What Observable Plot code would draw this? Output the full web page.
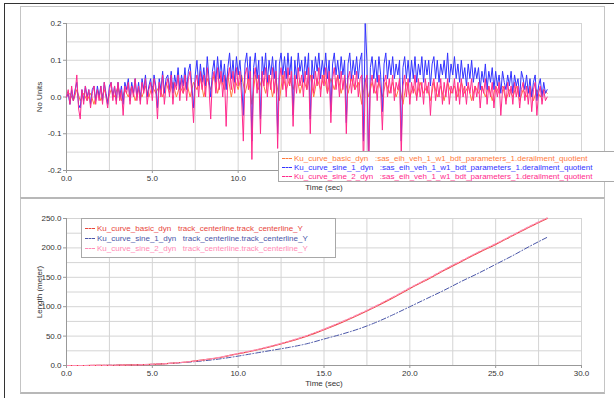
<!DOCTYPE html>
<html><head><meta charset="utf-8">
<script src="https://cdn.jsdelivr.net/npm/d3@7"></script>
<script src="https://cdn.jsdelivr.net/npm/@observablehq/plot@0.6"></script>
<style>
body{margin:0;background:#fff;font-family:"Liberation Sans",Arial,sans-serif;}
#wrap{position:relative;width:614px;height:398px;overflow:hidden;background:#fff;}
.frame{position:absolute;left:4px;top:3px;width:640px;height:420px;border-left:1px solid #333;border-top:1px solid #333;}
.panel{position:absolute;left:20px;width:585px;border:1px solid #c4c4c4;background:#fff;box-sizing:border-box;}
.plotsvg{position:absolute;left:20px;}
.legend{position:absolute;background:#fff;border:1px solid #a8a8a8;font-size:8px;white-space:pre;overflow:hidden;box-sizing:border-box;}
.row{position:absolute;left:3px;height:9px;line-height:9px;}
.sw{display:inline-block;width:10px;height:0;border-top:1px dashed;vertical-align:middle;margin-right:2px;}
</style></head>
<body><div id="wrap">
<div class="frame"></div>
<div class="panel" style="top:6px;height:192px;"></div>
<div class="panel" style="top:197px;height:197px;border-top:2px solid #b8b8b8;border-bottom:2px solid #b8b8b8;"></div>
</div>
<script>
// ---------- top panel data ----------
// orange series sampled every 0.2 s
const basicStep = 0.2;
const basicYaw = [
 0, .01, -.01, .02, -.01, .01, -.01, .01, -.02, .02, -.01,
 .02, -.01, .02, .0, .03, -.01, .02, .0, .03, -.01, .02, .0, .03, .0, .03,
 .01, .03, .0, .04, .01, .04, .0, .03, .01, .04, .0, .04, .02, .05, .0,
 .05, .02, .06, .01, .05, .02, .06, .0, .05, .02,
 .06, .01, .05, -.02, .06, .02, .05, .01, .06, .0,
 .05, -.01, .06, .02, .05, .02, .06, .01, .05, .02,
 .06, .0, .05, .02, .06, .01, .05, .02, .06, .01,
 .05, .01, .05, .02, .04, -.02, .05, .0, .04, .01,
 .04, .0, .04, .01, .04, .0, .03, -.02, .04, .0,
 .03, .0, .04, .01, .03, -.01, .04, .0, .03, -.01,
 .04, .01, .03, .0, .04, .01, .03, -.01, .03, .01,
 .03, .0, .03, -.01, .03, .01, .03, -.01, .02, .0,
 .03, -.01, .02, .0, .03, -.01, .02, .0, .02, .01
];
// blue and pink series sampled every 0.1 s (one row per second)
const fineStep = 0.1;
const sine1Yaw = [
 0, .01, -.02, .02, -.01, .02, .04, -.02, -.03, .02,
 -.01, .03, .0, .02, -.02, .02, .03, -.01, .03, .0,
 .03, -.01, .04, .01, -.02, .03, .04, .0, .03, -.01,
 .04, .0, .03, -.02, .04, .02, .05, -.01, .04, .01,
 .05, .0, .04, -.01, .05, .02, .06, .0, .03, .05,
 .01, .06, .03, -.03, .05, .02, .07, .01, .05, .06,
 .02, .07, .01, .06, .03, .08, .02, .06, .03, .08,
 .02, .07, .09, .03, -.03, .06, .1, .03, .09, .04,
 .08, .03, .11, .05, .0, .07, .1, .04, .11, .05,
 .1, .04, .09, .02, .08, .12, .05, .1, .04, .11,
 .06, .1, .04, -.05, .09, .12, .05, .11, -.12, .08,
 .12, .05, .1, -.06, .11, .06, .12, .04, .1, .06,
 .11, .05, .1, -.1, .09, .12, .06, .11, .05, .12,
 .06, .11, -.05, .1, .05, .12, .07, .1, .04, .11,
 .06, .12, -.06, .1, .05, .11, .07, .12, .05, .1,
 .06, .12, .05, .1, -.04, .09, .12, .06, .1, .05,
 .11, .06, .1, -.07, .09, .12, .05, .1, .06, .11,
 .05, .1, .12, -.12, .2, .1, -.18, .08, .11, .05,
 .1, .04, .11, .06, -.04, .09, .12, .05, .1, .06,
 .11, .05, .09, .06, .1, -.12, .08, .11, .05, .1,
 .04, .1, .05, .11, .04, .09, .06, .11, .04, .1,
 .06, .1, .03, .09, .11, .05, .1, .04, .09, .06,
 .1, .05, .12, .04, .09, .06, .11, .05, .09, .04,
 .1, .05, .08, .03, .09, .05, .1, .04, .08, .05,
 .08, .02, .07, .04, .09, .02, .07, .04, .08, .02,
 .07, .03, .06, .01, .07, .04, .02, .06, .03, .07,
 .01, .06, .03, .05, .0, .07, .05, .02, .06, .01,
 .05, .0, .04, .06, -.01, .03, .05, .0, .04, .01,
 .02
];
const sine2Yaw = [
 0, .02, -.02, .03, -.01, .01, .06, -.03, -.06, .02,
 -.02, .03, -.01, .02, -.03, .01, .03, -.02, .02, -.01,
 .03, -.02, .04, .0, -.03, .02, .04, -.01, .03, -.02,
 .04, -.01, .02, -.05, .03, .01, .04, -.02, .03, .0,
 .05, -.01, .03, -.02, .04, .01, .05, -.02, .02, .04,
 -.01, .05, .02, -.06, .04, .0, .06, -.02, .03, .05,
 .0, .06, -.02, .04, .02, .06, -.01, .05, .01, .06,
 -.01, .05, .07, .01, -.07, .04, .06, .0, .07, .02,
 .06, .0, .08, .03, -.06, .05, .07, .01, .08, .02,
 .07, .0, .06, -.08, .05, .08, .02, .07, .01, .08,
 .03, .07, .0, -.12, .06, .08, .02, .07, -.17, .05,
 .08, .01, .06, -.1, .07, .03, .08, .0, .06, .02,
 .08, .01, .07, -.14, .05, .08, .02, .07, .0, .08,
 .03, .07, -.08, .06, .01, .08, .03, .06, .0, .07,
 .02, .08, -.1, .06, .01, .07, .03, .08, .0, .06,
 .03, .08, .01, .07, -.07, .05, .08, .02, .06, .0,
 .07, .02, .06, -.1, .05, .07, .01, .06, .02, .07,
 .0, .05, .06, -.2, .04, .06, -.2, .03, .06, .01,
 .05, -.01, .06, .02, -.09, .04, .06, .0, .05, .01,
 .06, -.01, .04, .02, .05, -.16, .03, .06, .0, .05,
 -.02, .04, .01, .06, -.01, .05, .0, .04, -.02, .05,
 .01, .04, -.05, .03, .05, -.01, .04, .0, .05, -.02,
 .04, .0, .05, -.02, .03, .01, .05, -.01, .04, -.02,
 .05, .0, .03, -.02, .04, .01, .05, -.01, .03, .0,
 .04, -.03, .03, .01, .05, -.02, .03, .0, .04, -.03,
 .03, .0, .04, -.05, .02, .03, -.02, .04, .0, .03,
 -.02, .04, .0, .03, -.03, .02, .04, -.01, .03, -.02,
 .03, -.04, .02, .04, -.05, .01, .03, -.02, .02, -.01,
 .0
];
const yawTicks = [-0.2, -0.1, 0, 0.1, 0.2];
const yawGrid = [-0.2, -0.15, -0.1, -0.05, 0, 0.05, 0.1, 0.15, 0.2];

// ---------- bottom panel data (every 1 s) ----------
const lenTime = [0,1,2,3,4,5,6,7,8,9,10,11,12,13,14,15,16,17,18,19,20,21,22,23,24,25,26,27,28];
const basicLen = [0,0,0.2,0.5,1,2,3.5,6,9.5,14,20,26,33,41,50,61,73,86,100,115,131,146,162,177,192,206,221,236,250];
const sine1Len = [0,0,0.2,0.5,1,2,3.5,5.5,8,11.5,16,21,26,31,37,45,53,62,73,86,100,114,128,143,157,172,187,203,218];
const sine2Len = [0,0,0.2,0.5,1,2,3.6,6.1,9.7,14.3,20.4,26.5,33.6,41.7,50.8,61.8,73.9,87,101,116,132,147,163,178,193,207,222,237,251];
const lenTicks = [0, 50, 100, 150, 200, 250];
const lenGrid = [0, 25, 50, 75, 100, 125, 150, 175, 200, 225, 250];

const timeTicks = [0, 5, 10, 15, 20, 25, 30];
const topVisibleTimeLabels = [0, 5, 10];
const timeGrid = [0, 2.5, 5, 7.5, 10, 12.5, 15, 17.5, 20, 22.5, 25, 27.5, 30];

const seriesNames = ["Ku_curve_basic_dyn", "Ku_curve_sine_1_dyn", "Ku_curve_sine_2_dyn"];
const topSignal = "   :sas_eih_veh_1_w1_bdt_parameters_1.derailment_quotient";
const bottomSignal = "   track_centerline.track_centerline_Y";
const topColors = ["#ff7a3c", "#3333ff", "#ff2a8c"];
const bottomColors = ["#e8463c", "#4a56a8", "#ff8ab4"];
const bottomDash = [null, "5,2,1,2", "4,2"];

const toRows = (arr, step) => arr.map((v, i) => ({t: i * step, v}));
const fmt = d => d.toFixed(1);
const baseStyle = {fontSize: "8px", fontFamily: "Liberation Sans, Arial, sans-serif", background: "transparent", color: "#333", overflow: "visible"};

const topPlot = Plot.plot({
  width: 585, height: 190,
  marginLeft: 46, marginRight: 24, marginTop: 16, marginBottom: 27,
  style: baseStyle,
  x: {domain: [0, 30]},
  y: {domain: [-0.2, 0.2]},
  marks: [
    Plot.gridX(timeGrid, {stroke: "#d4d4d4", strokeOpacity: 1}),
    Plot.gridY(yawGrid, {stroke: "#d4d4d4", strokeOpacity: 1}),
    Plot.ruleX([0], {stroke: "#999"}),
    Plot.ruleY([-0.2], {stroke: "#999"}),
    Plot.line(toRows(basicYaw, basicStep), {x: "t", y: "v", stroke: topColors[0], strokeWidth: 1}),
    Plot.line(toRows(sine1Yaw, fineStep), {x: "t", y: "v", stroke: topColors[1], strokeWidth: 1}),
    Plot.line(toRows(sine2Yaw, fineStep), {x: "t", y: "v", stroke: topColors[2], strokeWidth: 1}),
    Plot.axisX(timeTicks, {tickFormat: d => topVisibleTimeLabels.includes(d) ? fmt(d) : "", tickSize: 3, tickPadding: 2, stroke: "#999", label: "Time (sec)", labelAnchor: "center", labelArrow: "none", labelOffset: 19}),
    Plot.axisY(yawTicks, {tickFormat: fmt, tickSize: 3, tickPadding: 2, stroke: "#999", label: "No Units", labelAnchor: "center", labelArrow: "none", labelOffset: 30})
  ]
});

const botPlot = Plot.plot({
  width: 585, height: 193,
  marginLeft: 46, marginRight: 24, marginTop: 18, marginBottom: 28,
  style: baseStyle,
  x: {domain: [0, 30]},
  y: {domain: [0, 250]},
  marks: [
    Plot.gridX(timeGrid, {stroke: "#d4d4d4", strokeOpacity: 1}),
    Plot.gridY(lenGrid, {stroke: "#d4d4d4", strokeOpacity: 1}),
    Plot.ruleX([0], {stroke: "#999"}),
    Plot.ruleY([0], {stroke: "#999"}),
    Plot.line(lenTime.map((t, i) => ({t, v: sine1Len[i]})), {x: "t", y: "v", stroke: bottomColors[1], strokeWidth: 1, strokeDasharray: bottomDash[1], curve: "monotone-x"}),
    Plot.line(lenTime.map((t, i) => ({t, v: basicLen[i]})), {x: "t", y: "v", stroke: bottomColors[0], strokeWidth: 1.2, curve: "monotone-x"}),
    Plot.line(lenTime.map((t, i) => ({t, v: sine2Len[i]})), {x: "t", y: "v", stroke: bottomColors[2], strokeWidth: 1.2, strokeDasharray: bottomDash[2], curve: "monotone-x"}),
    Plot.axisX(timeTicks, {tickFormat: fmt, tickSize: 3, tickPadding: 2, stroke: "#999", label: "Time (sec)", labelAnchor: "center", labelArrow: "none", labelOffset: 20}),
    Plot.axisY(lenTicks, {tickFormat: fmt, tickSize: 3, tickPadding: 2, stroke: "#999", label: "Length (meter)", labelAnchor: "center", labelArrow: "none", labelOffset: 30})
  ]
});

const wrap = document.getElementById("wrap");
topPlot.classList.add("plotsvg"); topPlot.style.top = "7px";
botPlot.classList.add("plotsvg"); botPlot.style.top = "200px";
wrap.appendChild(topPlot);
wrap.appendChild(botPlot);

function makeLegend(left, top, width, height, rowTop, rowGap, colors, suffix) {
  const box = document.createElement("div");
  box.className = "legend";
  Object.assign(box.style, {left: left + "px", top: top + "px", width: width + "px", height: height + "px"});
  seriesNames.forEach((name, i) => {
    const row = document.createElement("div");
    row.className = "row";
    row.style.top = (rowTop + i * rowGap) + "px";
    row.style.color = colors[i];
    const sw = document.createElement("span");
    sw.className = "sw";
    sw.style.borderTopColor = colors[i];
    row.appendChild(sw);
    row.appendChild(document.createTextNode(name + suffix));
    box.appendChild(row);
  });
  wrap.appendChild(box);
}
makeLegend(278, 151, 360, 31, 2, 9, topColors, topSignal);
makeLegend(81, 218, 255, 40, 5, 10, bottomColors, bottomSignal);
</script>
</body></html>
